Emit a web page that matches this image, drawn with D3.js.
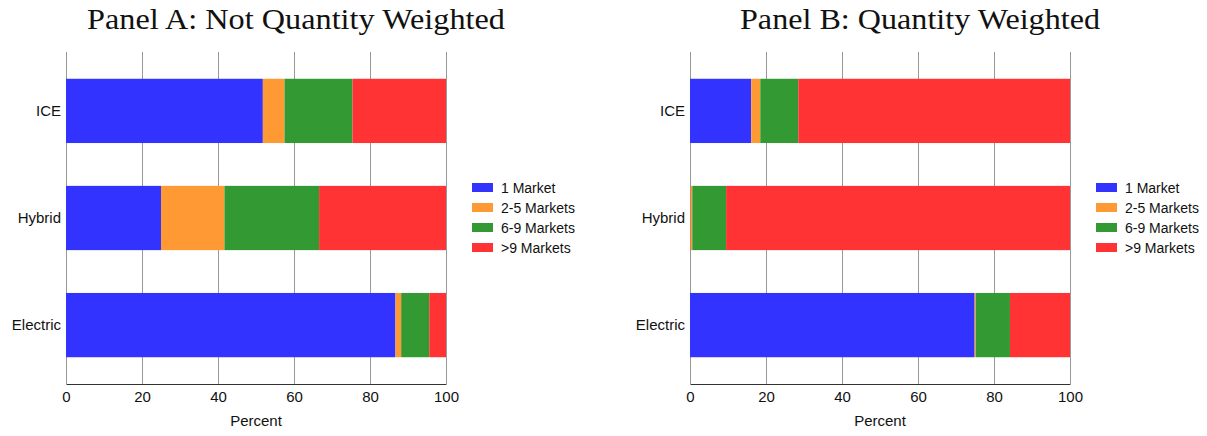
<!DOCTYPE html>
<html><head><meta charset="utf-8">
<script src="https://cdn.jsdelivr.net/npm/d3@7"></script>
<style>
body{margin:0;background:#fff;}
svg text{font-family:"Liberation Sans",Arial,sans-serif;}
</style></head>
<body><svg id="c" width="1207" height="436"></svg>
<script>
const categories = ["ICE","Hybrid","Electric"];
const seriesNames = ["1 Market","2-5 Markets","6-9 Markets",">9 Markets"];
const seriesColors = ["#3333ff","#ff9933","#339933","#ff3333"];
const xTicks = [0,20,40,60,80,100];
// Panel A: Not Quantity Weighted (percent per category, series order)
const panelA_oneMarket   = [51.8, 25.0, 86.7];
const panelA_twoToFive   = [5.7, 16.7, 1.5];
const panelA_sixToNine   = [17.9, 24.9, 7.4];
const panelA_overNine    = [24.6, 33.4, 4.4];
// Panel B: Quantity Weighted
const panelB_oneMarket   = [16.1, 0.1, 74.9];
const panelB_twoToFive   = [2.4, 0.5, 0.3];
const panelB_sixToNine   = [10.0, 8.9, 9.0];
const panelB_overNine    = [71.5, 90.5, 15.8];

const svg = d3.select("#c");

function panel(ox, title, titleW, vals){
  const left = ox, right = ox + 380, top = 52, bottom = 384;
  const x = d3.scaleLinear().domain([0,100]).range([left,right]);
  const y = d3.scaleBand().domain(categories).range([top,bottom]).paddingInner(0.4).paddingOuter(0.25);
  const g = svg.append("g");
  // title
  g.append("text").attr("x",(left+right)/2+40).attr("y",29).attr("text-anchor","middle")
    .style("font-family","'Liberation Serif','DejaVu Serif',serif").style("font-size","29px")
    .attr("textLength",titleW).attr("lengthAdjust","spacingAndGlyphs")
    .attr("fill","#111").text(title);
  // grid
  g.selectAll("line.grid").data(xTicks).join("line").attr("class","grid")
    .attr("x1",d=>x(d)+0.5).attr("x2",d=>x(d)+0.5).attr("y1",top).attr("y2",bottom)
    .attr("stroke","#999").attr("stroke-width",1);
  // stacked bars
  const rows = categories.map((c,i)=>{const o={cat:c}; seriesNames.forEach((s,j)=>o[s]=vals[j][i]); return o;});
  const stack = d3.stack().keys(seriesNames)(rows);
  stack.forEach((layer,j)=>{
    g.selectAll(null).data(layer).join("rect")
      .attr("x",d=>x(d[0])).attr("width",d=>Math.max(0,x(d[1])-x(d[0])))
      .attr("y",d=>y(d.data.cat)).attr("height",y.bandwidth())
      .attr("fill",seriesColors[j]);
  });
  // x axis
  const ax = g.append("g").attr("transform",`translate(0,${bottom})`)
    .call(d3.axisBottom(x).tickValues(xTicks).tickSize(0).tickPadding(7));
  ax.select(".domain").attr("stroke","#333");
  ax.selectAll("text").style("font-size","15px").attr("fill","#111");
  g.append("text").attr("x",(left+right)/2).attr("y",426).attr("text-anchor","middle")
    .style("font-size","15px").attr("fill","#111").text("Percent");
  // y labels
  const ay = g.append("g").attr("transform",`translate(${left},0)`)
    .call(d3.axisLeft(y).tickSize(0).tickPadding(5));
  ay.select(".domain").remove();
  ay.selectAll("text").style("font-size","15px").attr("fill","#111");
  // legend
  const lg = g.append("g").attr("transform",`translate(${right+26},183)`);
  seriesNames.forEach((s,j)=>{
    lg.append("rect").attr("x",0).attr("y",j*20).attr("width",21).attr("height",9).attr("fill",seriesColors[j]);
    lg.append("text").attr("x",29).attr("y",j*20+9.5).style("font-size","14px").attr("fill","#111").text(s);
  });
}
panel(66, "Panel A: Not Quantity Weighted", 418, [panelA_oneMarket,panelA_twoToFive,panelA_sixToNine,panelA_overNine]);
panel(690, "Panel B: Quantity Weighted", 360, [panelB_oneMarket,panelB_twoToFive,panelB_sixToNine,panelB_overNine]);
</script></body></html>
